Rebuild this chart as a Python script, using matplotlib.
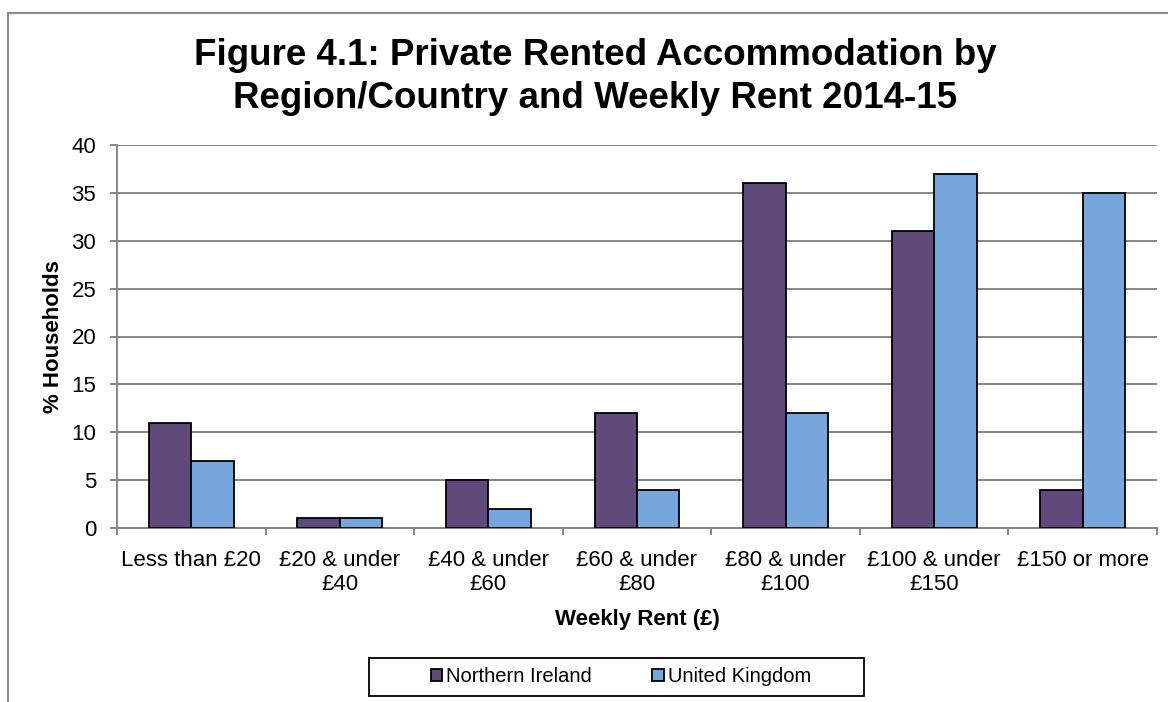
import numpy as np
import matplotlib.pyplot as plt
from matplotlib.patches import Rectangle

plt.rcParams["font.family"] = ["Liberation Sans", "DejaVu Sans"]

categories = ["Less than £20", "£20 & under\n£40", "£40 & under\n£60", "£60 & under\n£80",
              "£80 & under\n£100", "£100 & under\n£150", "£150 or more"]
northern_ireland = [11, 1, 5, 12, 36, 31, 4]
united_kingdom = [7, 1, 2, 4, 12, 37, 35]
title_lines = ["Figure 4.1: Private Rented Accommodation by",
               "Region/Country and Weekly Rent 2014-15"]

NI_COLOR = "#604A7B"
UK_COLOR = "#77A6DD"
GRID = "#868686"
W, H = 1168, 702


def fig_rect(x0, y0, x1, y1, **kw):
    # pixel box (top-left origin) -> figure-fraction rectangle
    return Rectangle((x0 / W, 1 - y1 / H), (x1 - x0) / W, (y1 - y0) / H,
                     transform=fig.transFigure, **kw)


fig = plt.figure(figsize=(W / 100, H / 100), dpi=100)

# outer chart frame, cut off at right and bottom like the source
fig.patches.append(fig_rect(8, 13, W + 50, H + 50, fill=False,
                            edgecolor="#8c8c8c", linewidth=1.5))

ax = fig.add_axes([117 / W, 1 - 528 / H, 1040 / W, 383 / H])

x = np.arange(len(categories))
w = 1 / 3.5
ax.bar(x - w / 2, northern_ireland, w, color=NI_COLOR, edgecolor="black",
       linewidth=1.3, label="Northern Ireland", zorder=3)
ax.bar(x + w / 2, united_kingdom, w, color=UK_COLOR, edgecolor="black",
       linewidth=1.3, label="United Kingdom", zorder=3)

ax.set_xlim(-0.5, len(categories) - 0.5)
ax.set_ylim(0, 40)
ax.set_yticks(range(0, 41, 5))
ax.yaxis.grid(True, color=GRID, linewidth=1.4, zorder=0)

ax.set_xticks(x)
ax.set_xticklabels(categories, fontsize=16, linespacing=1.2)
ax.tick_params(axis="x", length=0, pad=16)
ax.set_xticks(np.arange(len(categories) + 1) - 0.5, minor=True)
ax.tick_params(axis="x", which="minor", length=5, color=GRID, width=1.4)
ax.tick_params(axis="y", labelsize=16, length=5, color=GRID, width=1.4, pad=10)

for side in ["top", "right"]:
    ax.spines[side].set_visible(False)
for side in ["left", "bottom"]:
    ax.spines[side].set_color(GRID)
    ax.spines[side].set_linewidth(1.4)

ax.set_ylabel("% Households", fontsize=16, fontweight="bold", labelpad=5)
ax.set_xlabel("Weekly Rent (£)", fontsize=16, fontweight="bold", labelpad=9.5)

for line, base in zip(title_lines, [65, 108]):
    fig.text(595 / W, 1 - base / H, line, ha="center", va="baseline",
             fontsize=26.5, fontweight="bold")

# legend box drawn separately so its padding can match the source
fig.patches.append(fig_rect(369, 658, 864, 696, fill=False,
                            edgecolor="black", linewidth=1.3))
leg = fig.legend(loc="center", bbox_to_anchor=(621 / W, 1 - 677 / H), ncol=2,
                 frameon=False, fontsize=14.5, handlelength=0.55,
                 handleheight=0.55, handletextpad=0.2, columnspacing=3.0)

fig.savefig("out.png", dpi=100)
